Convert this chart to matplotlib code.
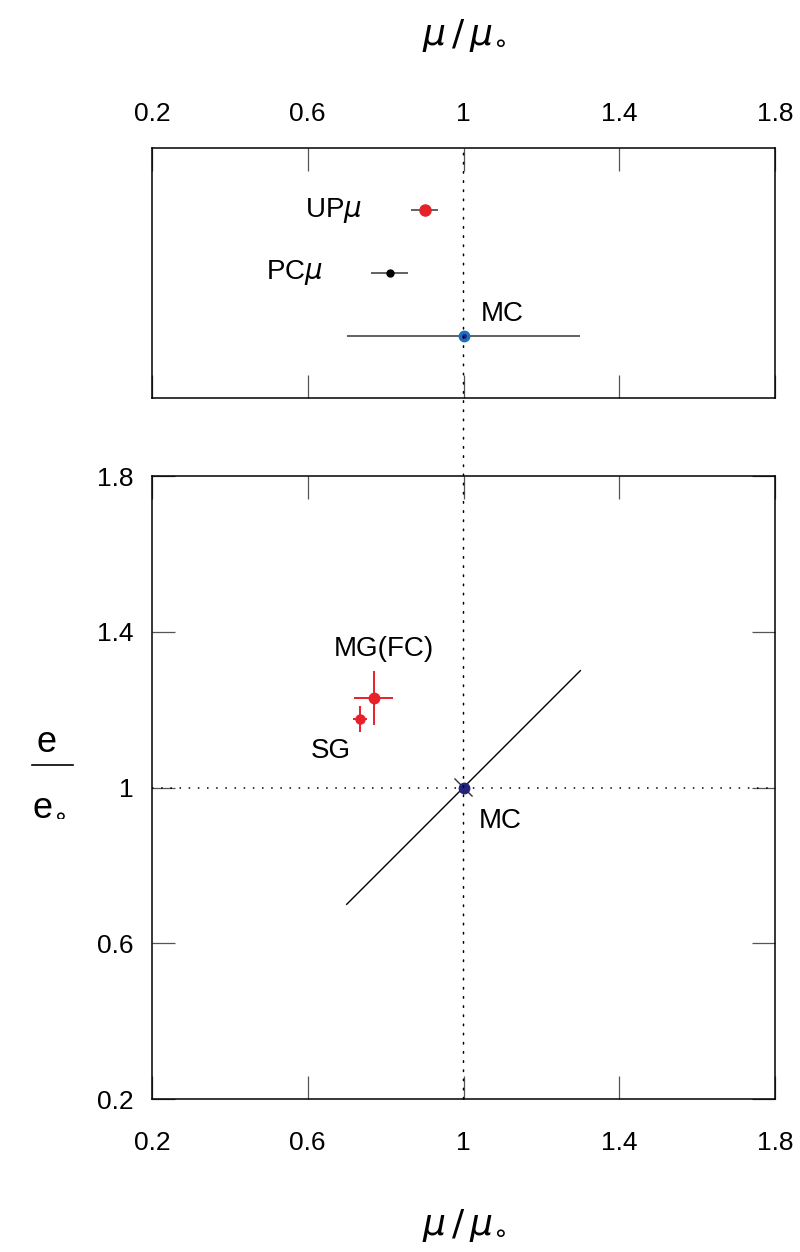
import matplotlib
matplotlib.use("Agg")
import matplotlib.pyplot as plt
from matplotlib.patches import ConnectionPatch
from matplotlib.lines import Line2D

plt.rcParams['font.family'] = ['Liberation Sans', 'DejaVu Sans']
plt.rcParams['mathtext.fontset'] = 'dejavusans'

# top panel: mu/mu0 measurements
top_names = ['UP$\\mu$', 'PC$\\mu$', 'MC']
top_x = [0.90, 0.81, 1.00]
top_xerr = [0.035, 0.047, 0.30]
top_y = [3, 2, 1]

# bottom panel: (mu/mu0, e/e0) measurements
bot_names = ['MG(FC)', 'SG']
bot_x = [0.77, 0.734]
bot_y = [1.23, 1.176]
bot_xerr = [0.05, 0.018]
bot_yerr = [0.07, 0.033]

# MC reference point and its correlated error line
mc_x, mc_y = 1.0, 1.0
mc_diag = [0.7, 1.3]
mc_perp = 0.022

ticks = [0.2, 0.6, 1, 1.4, 1.8]
tick_labels = ['0.2', '0.6', '1', '1.4', '1.8']

red = '#e8202a'

fig = plt.figure(figsize=(8, 12.52), dpi=100)
ax_top = fig.add_axes([0.19, 0.6821, 0.77875, 0.1997])
ax_bot = fig.add_axes([0.19, 0.1222, 0.77875, 0.4976])

for ax in (ax_top, ax_bot):
    for s in ax.spines.values():
        s.set_linewidth(1.1)
    ax.set_xlim(0.2, 1.8)
    ax.set_xticks(ticks)
    ax.tick_params(direction='in', length=16.5, width=0.9, color='#555555',
                   labelsize=19, top=True, right=True)

# top panel
ax_top.set_ylim(0, 4)
ax_top.set_yticks([])
ax_top.tick_params(axis='x', labelbottom=False, labeltop=True, pad=16)
ax_top.set_xticklabels(tick_labels)
cols = [red, 'black', '#1a6fc0']
msz = [8, 5, 7.5]
for i in range(3):
    ax_top.errorbar(top_x[i], top_y[i], xerr=top_xerr[i], fmt='o', color=cols[i],
                    ecolor='#555555', elinewidth=1.3, capsize=0, ms=msz[i], zorder=3)
ax_top.plot(top_x[2], top_y[2], 'o', color='#22237a', ms=2.5, zorder=4)
ax_top.text(0.739, 3, top_names[0], fontsize=20, ha='right', va='center')
ax_top.text(0.639, 2, top_names[1], fontsize=20, ha='right', va='center')
ax_top.text(1.045, 1.35, top_names[2], fontsize=20, ha='left', va='center')

# bottom panel
ax_bot.set_ylim(0.2, 1.8)
ax_bot.set_yticks(ticks)
ax_bot.set_xticklabels(tick_labels)
ax_bot.set_yticklabels(tick_labels)
ax_bot.tick_params(axis='x', pad=23)
ax_bot.tick_params(axis='y', pad=13)
ax_bot.axhline(1, color='black', lw=1.1, ls=(0, (1, 5)))
ax_bot.plot(mc_diag, mc_diag, color='black', lw=1.0)
ax_bot.plot([mc_x - mc_perp, mc_x + mc_perp], [mc_y + mc_perp, mc_y - mc_perp],
            color='#333333', lw=1.0)
ax_bot.plot(mc_x, mc_y, 'o', color='#22237a', ms=7.5, zorder=4)
for i in range(2):
    ax_bot.errorbar(bot_x[i], bot_y[i], xerr=bot_xerr[i], yerr=bot_yerr[i], fmt='o',
                    color=red, ecolor=red, elinewidth=1.4, capsize=0,
                    ms=[7.5, 6.5][i], zorder=3)
ax_bot.text(0.795, 1.355, bot_names[0], fontsize=20, ha='center', va='center')
ax_bot.text(0.66, 1.095, bot_names[1], fontsize=20, ha='center', va='center')
ax_bot.text(1.04, 0.915, 'MC', fontsize=20, ha='left', va='center')

# dotted mu/mu0 = 1 line through both panels
con = ConnectionPatch(xyA=(1, 0.2), coordsA=ax_bot.transData,
                      xyB=(1, 4), coordsB=ax_top.transData,
                      color='black', lw=1.1, ls=(0, (1, 5)), zorder=1)
fig.add_artist(con)

# axis labels
fig.text(0.58, 1 - 35 / 1252, r'$\mu\,/\,\mu_{\circ}$', fontsize=26, ha='center', va='center')
fig.text(0.58, 1 - 1225 / 1252, r'$\mu\,/\,\mu_{\circ}$', fontsize=26, ha='center', va='center')
fig.text(0.0575, 1 - 743 / 1252, 'e', fontsize=26, ha='center', va='center')
fig.add_artist(Line2D([32 / 800, 73 / 800], [1 - 765 / 1252] * 2, color='black', lw=1.2))
fig.text(0.062, 1 - 805 / 1252, r'e$_{\circ}$', fontsize=26, ha='center', va='center')

fig.savefig('out.png', dpi=100)
